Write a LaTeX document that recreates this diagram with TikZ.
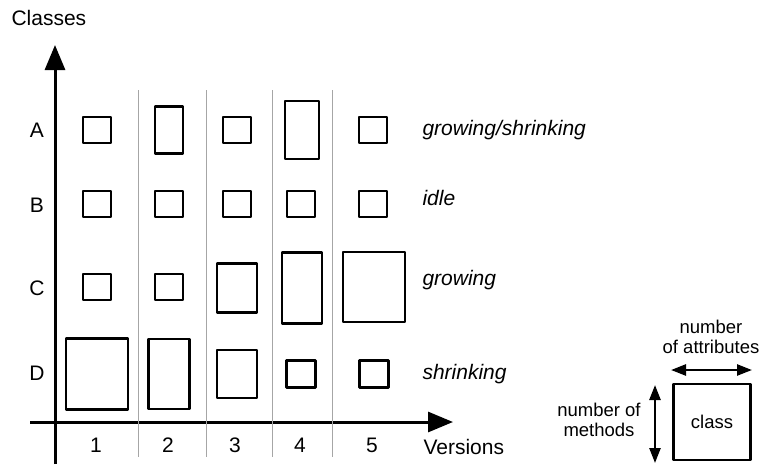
\documentclass[tikz,border=0pt]{standalone}
\usepackage{fontspec}
\setmainfont{Liberation Sans}
\usetikzlibrary{arrows.meta}
\begin{document}
\begin{tikzpicture}[x=1pt,y=-1pt,
  font=\fontsize{21}{23}\selectfont,
  cls/.style={draw, line width=2.4pt, line join=round, inner sep=0pt},
  axis/.style={line width=3pt, -{Triangle[length=25pt,width=20pt]}},
  sep/.style={draw=black!35, line width=1pt},
  legarrow/.style={line width=2.4pt, {Triangle[length=15pt,width=11pt]}-{Triangle[length=15pt,width=11pt]}},
  legtext/.style={align=center, font=\fontsize{18.5}{20.5}\selectfont},
  trend/.style={anchor=west, font=\fontsize{21}{23}\selectfont\itshape}]
\useasboundingbox (0,0) rectangle (761,464);

% axes
\coordinate (yb) at (55,464);
\coordinate (yt) at (55,45);
\coordinate (xl) at (30,422);
\coordinate (xr) at (453,422);
\draw[axis] (yb) -- (yt);
\draw[axis] (xl) -- (xr);
\node[anchor=west] (ylab) at (8,18) {Classes};
\node[anchor=west] (xlab) at (420,447) {Versions};

% version separators
\foreach \i/\x in {1/138,2/206,3/272,4/332}{
  \coordinate (s\i t) at (\x,90);
  \coordinate (s\i b) at (\x,457);
  \draw[sep] (s\i t) -- (s\i b);
}

% version numbers
\foreach \n/\x in {1/96,2/168,3/235,4/300,5/372}
  \node (v\n) at (\x,445) {\n};

% class names
\foreach \c/\y in {A/130,B/205,C/288,D/373}
  \node (r\c) at (37,\y) {\c};

% row A
\node[cls, minimum width=28pt, minimum height=26pt] (A1) at (97,130) {};
\node[cls, minimum width=28pt, minimum height=47pt] (A2) at (169,130) {};
\node[cls, minimum width=28pt, minimum height=26pt] (A3) at (237,130) {};
\node[cls, minimum width=34pt, minimum height=58pt] (A4) at (302,130) {};
\node[cls, minimum width=28pt, minimum height=26pt] (A5) at (373,130) {};
% row B
\node[cls, minimum width=28pt, minimum height=26pt] (B1) at (97,204) {};
\node[cls, minimum width=28pt, minimum height=26pt] (B2) at (169,204) {};
\node[cls, minimum width=28pt, minimum height=26pt] (B3) at (237,204) {};
\node[cls, minimum width=28pt, minimum height=26pt] (B4) at (301,204) {};
\node[cls, minimum width=28pt, minimum height=26pt] (B5) at (373,204) {};
% row C
\node[cls, minimum width=28pt, minimum height=26pt] (C1) at (97,287) {};
\node[cls, minimum width=28pt, minimum height=26pt] (C2) at (169,287) {};
\node[cls, minimum width=40pt, minimum height=49pt] (C3) at (237,288) {};
\node[cls, minimum width=40pt, minimum height=71pt] (C4) at (302,288) {};
\node[cls, minimum width=62pt, minimum height=70pt] (C5) at (374,287) {};
% row D
\node[cls, minimum width=62pt, minimum height=71pt] (D1) at (97,374) {};
\node[cls, minimum width=41pt, minimum height=70pt] (D2) at (169,374) {};
\node[cls, minimum width=40pt, minimum height=48pt] (D3) at (237,374) {};
\node[cls, minimum width=29pt, minimum height=27pt] (D4) at (301,374) {};
\node[cls, minimum width=29pt, minimum height=27pt] (D5) at (374,374) {};

% trends
\node[trend] (tA) at (419,130) {growing/shrinking};
\node[trend] (tB) at (419,198) {idle};
\node[trend] (tC) at (419,280) {growing};
\node[trend] (tD) at (419,374) {shrinking};

% legend
\node[cls, minimum width=77pt, minimum height=76pt, legtext] (cls) at (712,422) {class};
\coordinate (hl) at (671,370);
\coordinate (hr) at (752,370);
\draw[legarrow] (hl) -- (hr);
\coordinate (vt) at (655,385);
\coordinate (vb) at (655,463);
\draw[legarrow] (vt) -- (vb);
\node[legtext] (attr) at (711,337) {number\\of attributes};
\node[legtext] (meth) at (599,420) {number of\\methods};
\end{tikzpicture}
\end{document}
